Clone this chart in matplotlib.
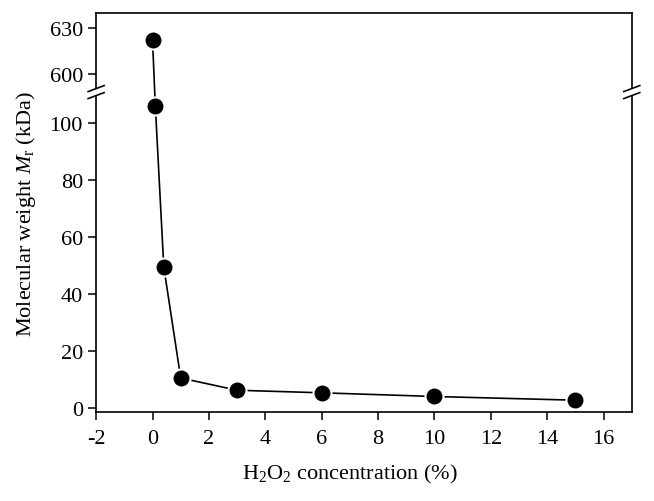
import numpy as np
import matplotlib
matplotlib.use('Agg')
from matplotlib import pyplot as plt
from matplotlib.lines import Line2D
from matplotlib.patches import Polygon

# H2O2 concentration (%) and molecular weight (kDa)
conc = [0, 0.1, 0.4, 1, 3, 6, 10, 15]
mw = [622, 106, 49.5, 10.5, 6.2, 5.3, 4.0, 2.7]

x_ticks = [-2, 0, 2, 4, 6, 8, 10, 12, 14, 16]
y_ticks = [0, 20, 40, 60, 80, 100, 600, 630]

# broken axis: compress everything between lo and hi
lo, hi = 111, 588
gap = 0.01
k = 0.534


def fwd(y):
    y = np.asarray(y, dtype=float)
    return np.where(y <= lo, y,
                    np.where(y >= hi, lo + gap + (y - hi) * k,
                             lo + (y - lo) * gap / (hi - lo)))


def inv(t):
    t = np.asarray(t, dtype=float)
    return np.where(t <= lo, t,
                    np.where(t >= lo + gap, hi + (t - lo - gap) / k,
                             lo + (t - lo) * (hi - lo) / gap))


plt.rcParams['font.family'] = ['Liberation Serif', 'DejaVu Serif']
plt.rcParams['mathtext.fontset'] = 'custom'
plt.rcParams['mathtext.rm'] = 'Liberation Serif'
plt.rcParams['mathtext.it'] = 'Liberation Serif:italic'

fig = plt.figure(figsize=(6.54, 5.02), dpi=100)
ax = fig.add_axes([0.147, 0.177, 0.819, 0.795])
ax.set_yscale('function', functions=(fwd, inv))

ax.plot(conc, mw, color='black', lw=1.2, marker='o', markersize=13,
        markerfacecolor='black', markeredgecolor='white', markeredgewidth=1.5)

ax.set_xlim(-2, 17)
ax.set_ylim(-1.5, 640)
ax.set_xticks(x_ticks)
ax.set_xticklabels([str(v) for v in x_ticks])
ax.set_yticks(y_ticks)
ax.set_yticklabels([str(v) for v in y_ticks])
ax.yaxis.set_minor_locator(matplotlib.ticker.NullLocator())
ax.tick_params(direction='out', length=6, width=1.1, labelsize=16,
               top=False, right=False)
ax.tick_params(axis='x', pad=6)
for s in ax.spines.values():
    s.set_linewidth(1.2)

ax.set_xlabel(r'H$_2$O$_2$ concentration (%)', fontsize=16)
ax.xaxis.set_label_coords(0.474, -0.125)
ax.set_ylabel(r'Molecular weight $M_\mathrm{r}$ (kDa)', fontsize=16)
ax.yaxis.set_label_coords(-0.108, 0.5)

# break marks on both side spines
inv_fig = fig.transFigure.inverted()
yb = ax.transData.transform((0, lo))[1]
for xb in (ax.bbox.x0, ax.bbox.x1):
    dx, dy, sep = 8, 3, 3.5
    l1 = [(xb - dx, yb - sep - dy), (xb + dx, yb - sep + dy)]
    l2 = [(xb - dx, yb + sep - dy), (xb + dx, yb + sep + dy)]
    poly = inv_fig.transform(l1 + l2[::-1])
    fig.add_artist(Polygon(poly, closed=True, facecolor='white',
                           edgecolor='none', zorder=5))
    for seg in (l1, l2):
        p = inv_fig.transform(seg)
        fig.add_artist(Line2D(p[:, 0], p[:, 1], color='black', lw=1.2,
                              zorder=6))

fig.savefig('out.png', dpi=100)
